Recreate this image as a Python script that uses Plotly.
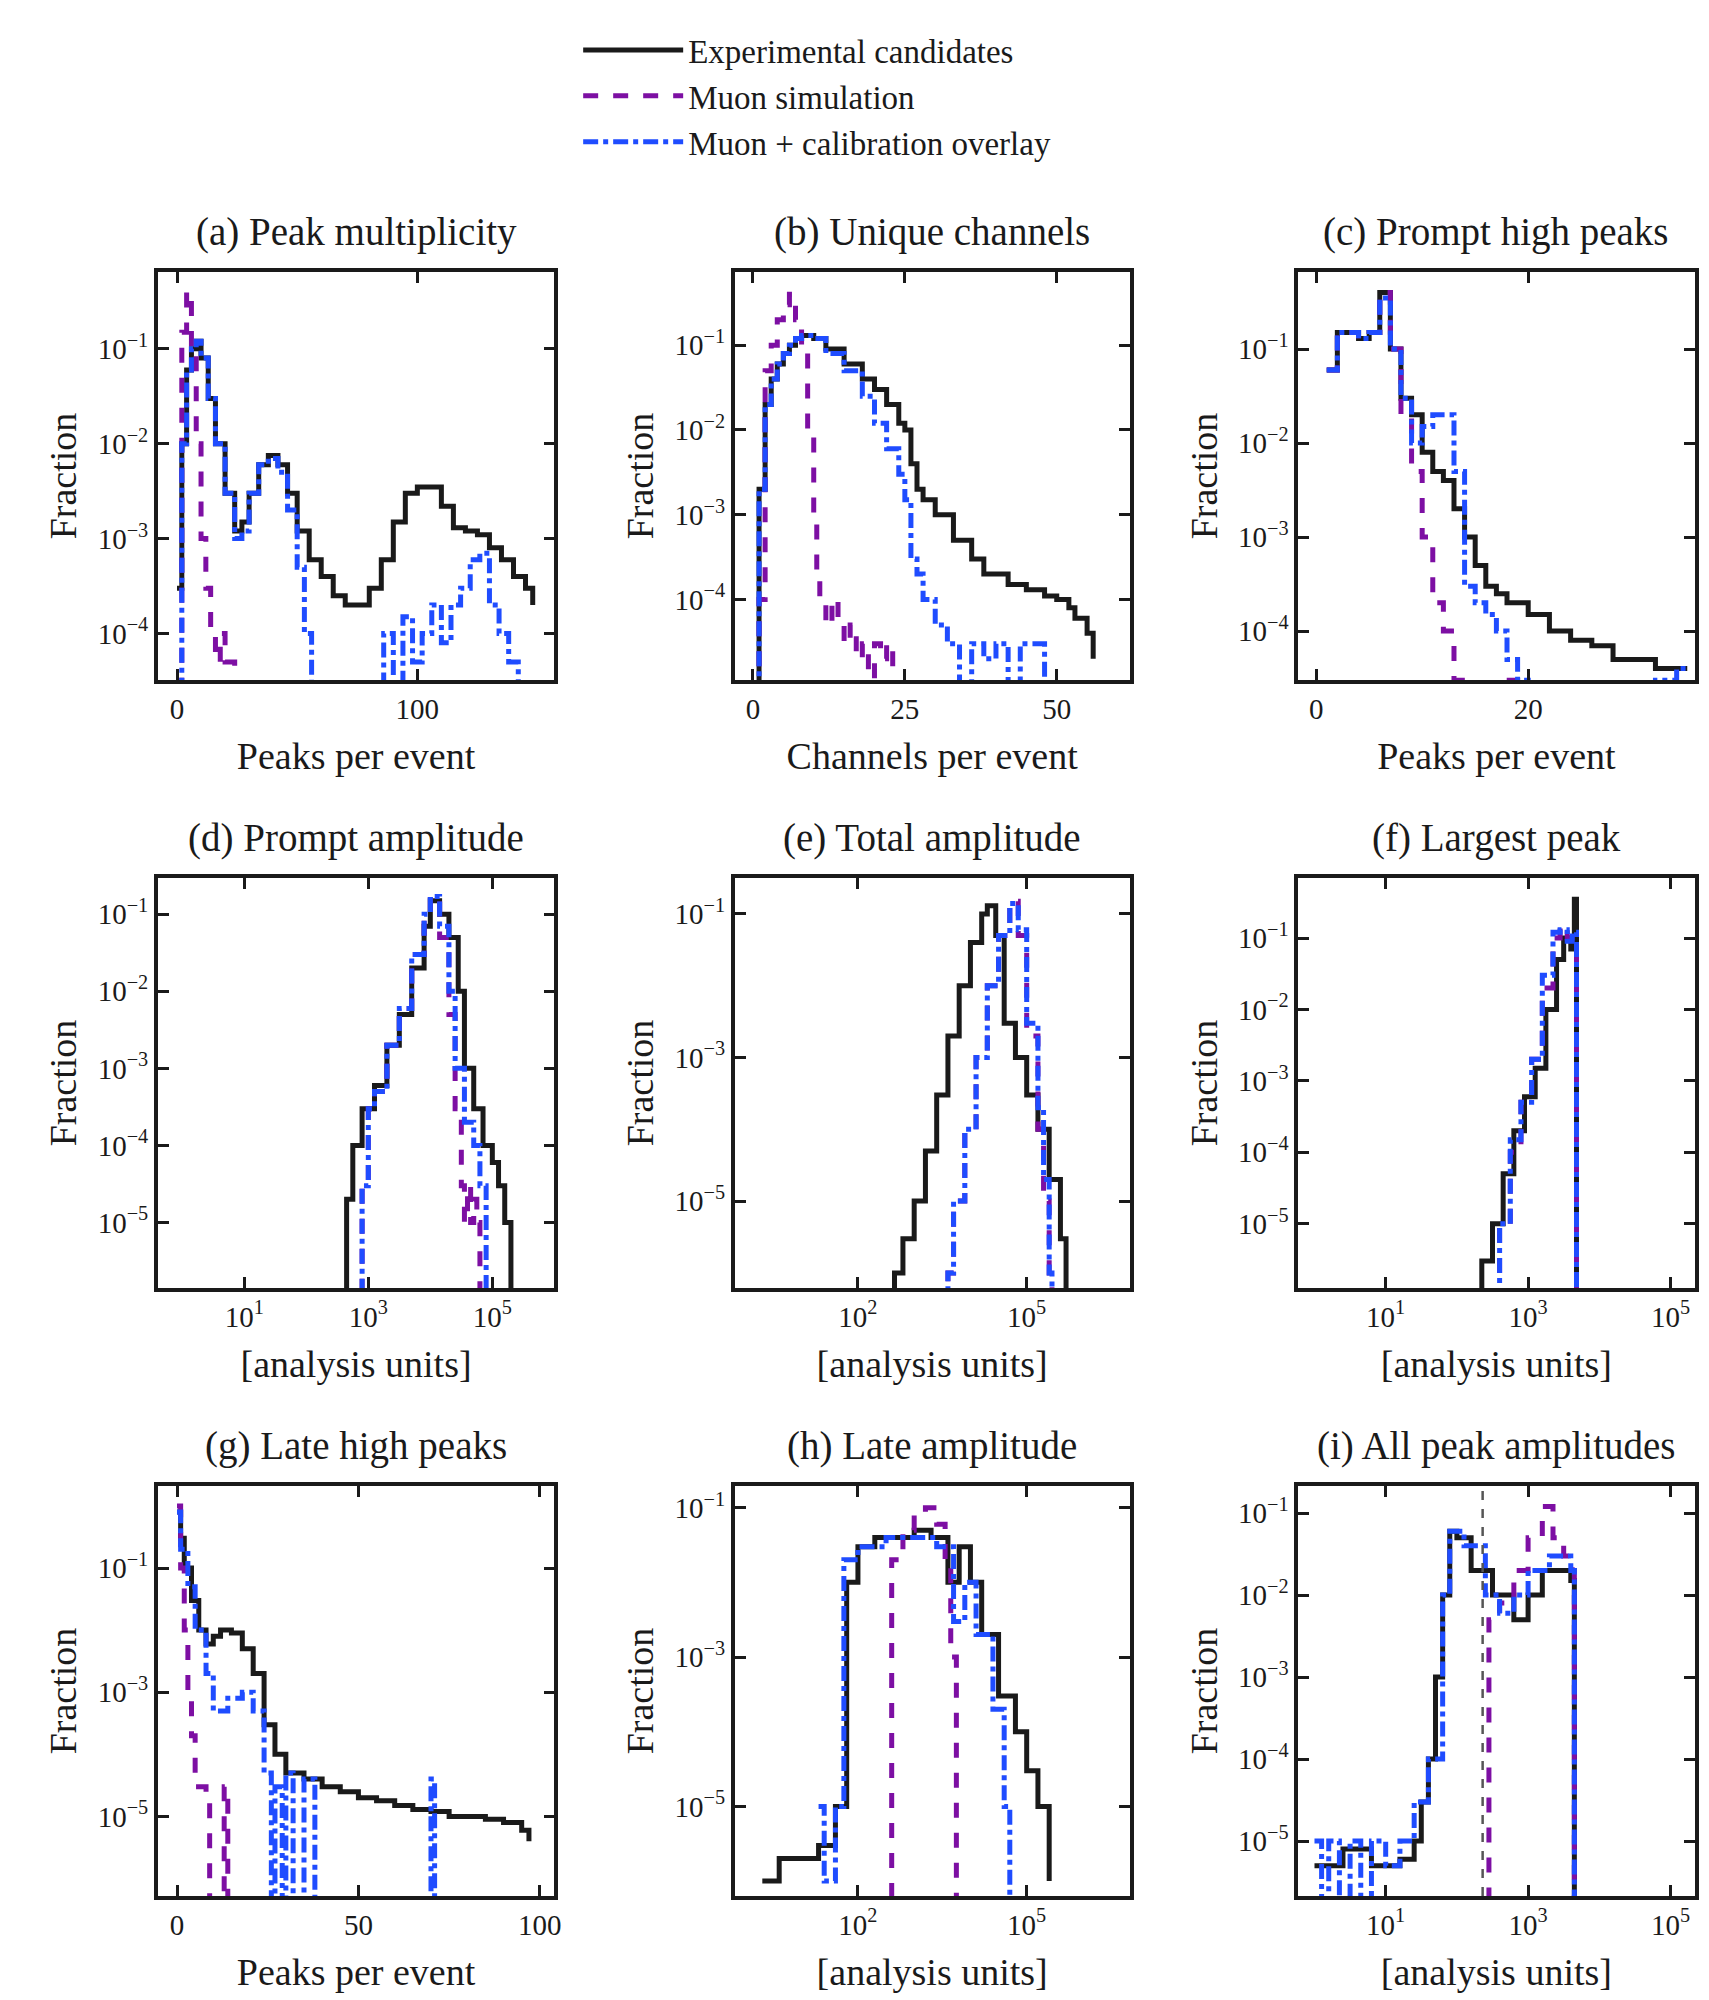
import plotly.graph_objects as go

Z = 1e-9
# ---------- data (x, fraction) ----------
a_x_blk = [0,2,4,6,8,10,13,16,20,24,27,30,34,38,42,46,50,55,60,65,70,75,80,85,90,95,100,105,110,115,120,125,130,135,140,145,148]
a_y_blk = [3e-4,0.01,0.06,0.1,0.12,0.08,0.03,0.01,0.003,0.0012,0.0015,0.003,0.006,0.0075,0.006,0.003,0.0012,0.0006,0.0004,0.00025,0.0002,0.0002,0.0003,0.0006,0.0015,0.003,0.0035,0.0035,0.0022,0.0013,0.0012,0.0011,0.0008,0.0006,0.0004,0.0003,0.0002]
a_x_pur = [0,2,4,6,8,10,12,14,16,18,20,24,28,32,36]
a_y_pur = [Z,0.15,0.4,0.1,0.01,0.001,3e-4,1e-4,5e-5,1e-4,5e-5,3e-5,3e-5,3e-5,Z]
a_x_blu = [0,2,4,6,8,10,13,16,20,24,27,30,34,38,42,46,50,53,56,60,64,68,72,76,80,86,90,94,98,102,106,110,114,118,122,126,130,134,138,142]
a_y_blu = [Z,0.01,0.06,0.1,0.12,0.08,0.03,0.01,0.003,0.001,0.0012,0.003,0.006,0.007,0.005,0.002,5e-4,1e-4,3e-5,Z,3e-5,Z,3e-5,Z,3e-5,1e-4,3e-5,1.5e-4,5e-5,1e-4,2e-4,8e-5,2e-4,3e-4,6e-4,7e-4,2e-4,1e-4,5e-5,Z]

b_x_blk = [0.5,1,2,3,4,5,6,7,8,9,10,12,15,18,20,22,24,25,26,27,28,30,33,36,38,42,45,48,50,52,53,55,56]
b_y_blk = [Z,0.002,0.02,0.04,0.06,0.08,0.1,0.12,0.13,0.13,0.12,0.09,0.06,0.04,0.03,0.02,0.012,0.01,0.004,0.002,0.0015,0.001,5e-4,3e-4,2e-4,1.5e-4,1.3e-4,1.1e-4,1e-4,8e-5,6e-5,4e-5,2e-5]
b_x_pur = [0.5,1,2,3,4,5,6,7,8,9,10,10.5,11,12,13,14,15,16,17,18,19,20,21,22,23]
b_y_pur = [Z,1e-4,0.05,0.1,0.2,0.3,0.4,0.2,0.1,0.01,0.001,2e-4,1e-4,5e-5,1e-4,5e-5,3e-5,5e-5,2e-5,3e-5,Z,3e-5,2e-5,3e-5,Z]
b_x_blu = [0.5,1,2,3,4,5,6,7,8,9,10,12,15,18,20,22,24,25,26,27,28,30,32,34,36,38,40,42,44,46,48,50]
b_y_blu = [Z,0.002,0.02,0.04,0.06,0.08,0.1,0.12,0.13,0.13,0.12,0.08,0.05,0.025,0.012,0.006,0.003,0.0015,3e-4,2e-4,1e-4,5e-5,3e-5,Z,3e-5,2e-5,3e-5,Z,3e-5,3e-5,Z,Z]

c_x_blk = [1,2,3,4,5,6,7,8,9,10,11,12,13,14,15,16,17,18,20,22,24,26,28,30,32,34,35]
c_y_blk = [0.06,0.15,0.15,0.13,0.15,0.4,0.1,0.03,0.02,0.008,0.005,0.004,0.002,0.001,5e-4,3e-4,2.5e-4,2e-4,1.5e-4,1e-4,8e-5,7e-5,5e-5,5e-5,4e-5,4e-5,4e-5]
c_x_pur = [1,2,3,4,5,6,7,8,9,10,11,12,13,15,17,19,20]
c_y_pur = [0.06,0.15,0.15,0.13,0.15,0.4,0.1,0.02,0.005,0.001,2e-4,1e-4,3e-5,2e-5,3e-5,2e-5,Z]
c_x_blu = [1,2,3,4,5,6,7,8,9,10,11,12,13,14,15,16,17,18,19,20,21,22,24,26,28,30,32,34,35]
c_y_blu = [0.06,0.15,0.15,0.13,0.15,0.35,0.1,0.03,0.01,0.015,0.02,0.02,0.005,3e-4,2e-4,1.5e-4,1e-4,5e-5,3e-5,2e-5,Z,Z,Z,Z,Z,2e-5,3e-5,4e-5,4e-5]

d_lx_blk = [2.6,2.65,2.75,2.9,3.1,3.3,3.5,3.7,3.9,4.0,4.15,4.3,4.45,4.55,4.7,4.85,5.0,5.1,5.2,5.3]
d_y_blk = [Z,2e-5,1e-4,3e-4,6e-4,2e-3,5e-3,0.02,0.07,0.15,0.1,0.05,0.01,0.001,3e-4,1e-4,6e-5,3e-5,1e-5,Z]
d_lx_pur = [2.85,2.9,3.0,3.1,3.3,3.5,3.7,3.9,4.0,4.15,4.3,4.4,4.5,4.55,4.6,4.65,4.7,4.75,4.8]
d_y_pur = [Z,3e-5,3e-4,5e-4,2e-3,6e-3,0.03,0.1,0.17,0.05,0.005,3e-4,3e-5,1e-5,3e-5,1e-5,2e-5,1e-5,Z]
d_lx_blu = [2.85,2.9,3.0,3.1,3.3,3.5,3.7,3.9,4.0,4.15,4.3,4.4,4.55,4.7,4.8,4.9]
d_y_blu = [Z,3e-5,3e-4,5e-4,2e-3,6e-3,0.03,0.1,0.17,0.07,0.01,1e-3,2e-4,1e-4,3e-5,Z]

e_lx_blk = [2.6,2.65,2.8,3.0,3.2,3.4,3.6,3.8,4.0,4.2,4.3,4.45,4.6,4.8,5.0,5.2,5.4,5.6,5.7]
e_y_blk = [Z,1e-6,3e-6,1e-5,5e-5,3e-4,2e-3,0.01,0.04,0.1,0.13,0.05,0.003,1e-3,3e-4,1e-4,2e-5,3e-6,Z]
e_lx_pur = [3.55,3.6,3.7,3.9,4.1,4.3,4.5,4.7,4.85,5.0,5.2,5.3,5.4,5.45]
e_y_pur = [Z,1e-6,1e-5,1e-4,1e-3,0.01,0.05,0.15,0.05,0.002,1e-4,1e-5,1e-6,Z]
e_lx_blu = [3.55,3.6,3.7,3.9,4.1,4.3,4.5,4.7,4.85,5.0,5.2,5.3,5.4,5.45]
e_y_blu = [Z,1e-6,1e-5,1e-4,1e-3,0.01,0.05,0.14,0.06,0.003,2e-4,2e-5,1e-6,Z]

f_lx_blk = [2.3,2.35,2.5,2.65,2.8,2.95,3.1,3.25,3.4,3.5,3.6,3.65,3.68]
f_y_blk = [Z,3e-6,1e-5,5e-5,2e-4,6e-4,1.5e-3,0.01,0.05,0.1,0.07,0.35,Z]
f_lx_pur = [2.55,2.6,2.75,2.9,3.05,3.2,3.35,3.45,3.55,3.62,3.68]
f_y_pur = [Z,1e-5,1e-4,5e-4,2e-3,0.02,0.1,0.15,0.1,0.1,Z]
f_lx_blu = [2.55,2.6,2.75,2.9,3.05,3.2,3.35,3.45,3.55,3.62,3.68]
f_y_blu = [Z,1e-5,1.5e-4,5e-4,2e-3,0.03,0.12,0.13,0.09,0.12,Z]

g_x_blk = [0,1,2,4,6,8,10,12,15,18,21,24,27,30,35,40,45,50,55,60,65,70,75,80,85,90,95,97]
g_y_blk = [0.8,0.3,0.1,0.03,0.01,0.006,0.008,0.01,0.009,0.005,0.002,3e-4,1e-4,5e-5,4e-5,3e-5,2.5e-5,2e-5,1.8e-5,1.5e-5,1.3e-5,1.2e-5,1e-5,1e-5,9e-6,8e-6,6e-6,4e-6]
g_x_pur = [0,1,2,3,4,5,8,9,13,14]
g_y_pur = [1.0,0.1,0.01,1e-3,2e-4,3e-5,2e-5,Z,3e-5,Z]
g_x_blu = [0,1,3,5,8,10,14,18,21,24,26,27,29,30,32,35,38,70,71]
g_y_blu = [0.8,0.2,0.05,0.01,2e-3,5e-4,8e-4,1e-3,5e-4,5e-5,Z,3e-5,Z,5e-5,Z,4e-5,Z,4e-5,Z]

h_lx_blk = [0.3,0.6,1.0,1.3,1.6,1.8,2.0,2.3,2.6,3.0,3.3,3.6,3.8,4.0,4.2,4.5,4.8,5.0,5.2,5.4]
h_y_blk = [1e-6,2e-6,2e-6,3e-6,1e-5,0.01,0.03,0.04,0.04,0.05,0.04,0.01,0.03,0.01,2e-3,3e-4,1e-4,3e-5,1e-5,1e-6]
h_lx_pur = [2.55,2.6,2.8,3.0,3.2,3.4,3.55,3.65,3.75]
h_y_pur = [Z,0.02,0.05,0.08,0.1,0.06,0.02,1e-3,Z]
h_lx_blu = [1.3,1.4,1.6,1.75,2.0,2.5,3.0,3.4,3.7,3.9,4.1,4.4,4.6,4.7]
h_y_blu = [1e-5,1e-6,1e-5,0.02,0.03,0.04,0.04,0.03,0.003,0.01,2e-3,2e-4,1e-5,Z]

i_lx_blk = [0.0,0.4,0.8,1.2,1.4,1.5,1.6,1.7,1.8,1.9,2.0,2.2,2.5,2.8,3.0,3.2,3.4,3.6,3.65]
i_y_blk = [5e-6,8e-6,5e-6,6e-6,1e-5,3e-5,1e-4,1e-3,0.01,0.06,0.05,0.02,0.01,0.005,0.01,0.02,0.02,0.015,Z]
i_lx_pur = [2.4,2.45,2.6,2.8,3.0,3.2,3.35,3.5,3.62,3.65]
i_y_pur = [Z,0.005,0.008,0.02,0.05,0.12,0.05,0.03,0.02,Z]
i_lx_blu = [0.0,0.1,0.2,0.35,0.5,0.65,0.8,1.0,1.2,1.4,1.6,1.8,1.9,2.1,2.4,2.6,2.8,3.0,3.3,3.6,3.65]
i_y_blu = [1e-5,Z,1e-5,Z,1e-5,Z,1e-5,5e-6,1e-5,3e-5,1e-4,0.01,0.06,0.04,0.01,0.006,0.01,0.02,0.03,0.02,Z]

names = ["Experimental candidates", "Muon simulation", "Muon + calibration overlay"]
colors = ["#1a1a1a", "#7d0fa3", "#1f4cff"]
dashes = ["solid", "dash", "dashdot"]

panels = [
    ("(a) Peak multiplicity", "Peaks per event", False, (a_x_blk,a_y_blk,a_x_pur,a_y_pur,a_x_blu,a_y_blu), [-8,157], [-4.49,-0.19], [0,100], [-4,-3,-2,-1]),
    ("(b) Unique channels", "Channels per event", False, (b_x_blk,b_y_blk,b_x_pur,b_y_pur,b_x_blu,b_y_blu), [-3,62], [-4.95,-0.136], [0,25,50], [-4,-3,-2,-1]),
    ("(c) Prompt high peaks", "Peaks per event", False, (c_x_blk,c_y_blk,c_x_pur,c_y_pur,c_x_blu,c_y_blu), [-1.7,35.7], [-4.52,-0.18], [0,20], [-4,-3,-2,-1]),
    ("(d) Prompt amplitude", "[analysis units]", True, (d_lx_blk,d_y_blk,d_lx_pur,d_y_pur,d_lx_blu,d_y_blu), [-0.395,6.0], [-5.85,-0.53], [1,3,5], [-5,-4,-3,-2,-1]),
    ("(e) Total amplitude", "[analysis units]", True, (e_lx_blk,e_y_blk,e_lx_pur,e_y_pur,e_lx_blu,e_y_blu), [-0.19,6.83], [-6.21,-0.5], [2,5], [-5,-3,-1]),
    ("(f) Largest peak", "[analysis units]", True, (f_lx_blk,f_y_blk,f_lx_pur,f_y_pur,f_lx_blu,f_y_blu), [-0.23,5.34], [-5.9,-0.16], [1,3,5], [-5,-4,-3,-2,-1]),
    ("(g) Late high peaks", "Peaks per event", False, (g_x_blk,g_y_blk,g_x_pur,g_y_pur,g_x_blu,g_y_blu), [-5.3,104], [-6.28,0.32], [0,50,100], [-5,-3,-1]),
    ("(h) Late amplitude", "[analysis units]", True, (h_lx_blk,h_y_blk,h_lx_pur,h_y_pur,h_lx_blu,h_y_blu), [-0.19,6.83], [-6.2,-0.71], [2,5], [-5,-3,-1]),
    ("(i) All peak amplitudes", "[analysis units]", True, (i_lx_blk,i_y_blk,i_lx_pur,i_y_pur,i_lx_blu,i_y_blu), [-0.23,5.34], [-5.67,-0.67], [1,3,5], [-5,-4,-3,-2,-1]),
]

xdoms = [(0.088,0.321),(0.427,0.659),(0.758,0.991)]
ydoms = [(0.664,0.868),(0.360,0.565),(0.056,0.261)]
FONT = "Liberation Serif"
INK = "#1a1a1a"

def sup(e):
    return "10<sup>" + ("\u2212" + str(-e) if e < 0 else str(e)) + "</sup>"

fig = go.Figure()
ann = []
for k, (title, xlab, logx, data, xr, yr, xt, yt) in enumerate(panels):
    r, c = divmod(k, 3)
    sfx = "" if k == 0 else str(k + 1)
    for s in range(3):
        xs, ys = data[2*s], data[2*s+1]
        if logx:
            xs = [10**v for v in xs]
        fig.add_trace(go.Scatter(x=xs, y=ys, mode="lines", line=dict(color=colors[s], width=5, dash=dashes[s], shape="hv"),
                                 name=names[s], showlegend=(k == 0), xaxis="x"+sfx, yaxis="y"+sfx))
    ax = dict(domain=list(xdoms[c]), anchor="y"+sfx, showline=True, linewidth=3.5, linecolor=INK, mirror="ticks",
              ticks="inside", ticklen=11, tickwidth=2.5, tickcolor=INK, showgrid=False, zeroline=False,
              tickfont=dict(size=29, family=FONT, color=INK),
              title=dict(text=xlab, font=dict(size=38, family=FONT, color=INK), standoff=20))
    if logx:
        ax.update(type="log", range=xr, tickvals=[10**v for v in xt], ticktext=[sup(v) for v in xt])
    else:
        ax.update(range=xr, tickvals=xt)
    ay = dict(domain=list(ydoms[r]), anchor="x"+sfx, type="log", range=yr, showline=True, linewidth=3.5, linecolor=INK,
              mirror="ticks", ticks="inside", ticklen=11, tickwidth=2.5, tickcolor=INK, showgrid=False, zeroline=False,
              tickvals=[10**v for v in yt], ticktext=[sup(v) for v in yt],
              tickfont=dict(size=29, family=FONT, color=INK),
              title=dict(text="Fraction", font=dict(size=38, family=FONT, color=INK), standoff=10))
    fig.layout["xaxis"+sfx] = ax
    fig.layout["yaxis"+sfx] = ay
    ann.append(dict(text=title, x=(xdoms[c][0]+xdoms[c][1])/2, y=ydoms[r][1]+0.008, xref="paper", yref="paper",
                    xanchor="center", yanchor="bottom", showarrow=False, font=dict(size=39, family=FONT, color=INK)))

fig.add_shape(type="line", x0=230, x1=230, y0=0, y1=1, xref="x9", yref="y9 domain",
              line=dict(color="#555555", width=2.5, dash="dash"))

fig.update_layout(width=1709, height=2000, margin=dict(l=0, r=0, t=0, b=0), plot_bgcolor="white", paper_bgcolor="white",
                  annotations=ann,
                  legend=dict(x=0.335, y=0.993, xanchor="left", yanchor="top", font=dict(size=33, family=FONT, color=INK),
                              itemwidth=100, tracegroupgap=6, bgcolor="rgba(0,0,0,0)"))
fig.write_html("out.html")
